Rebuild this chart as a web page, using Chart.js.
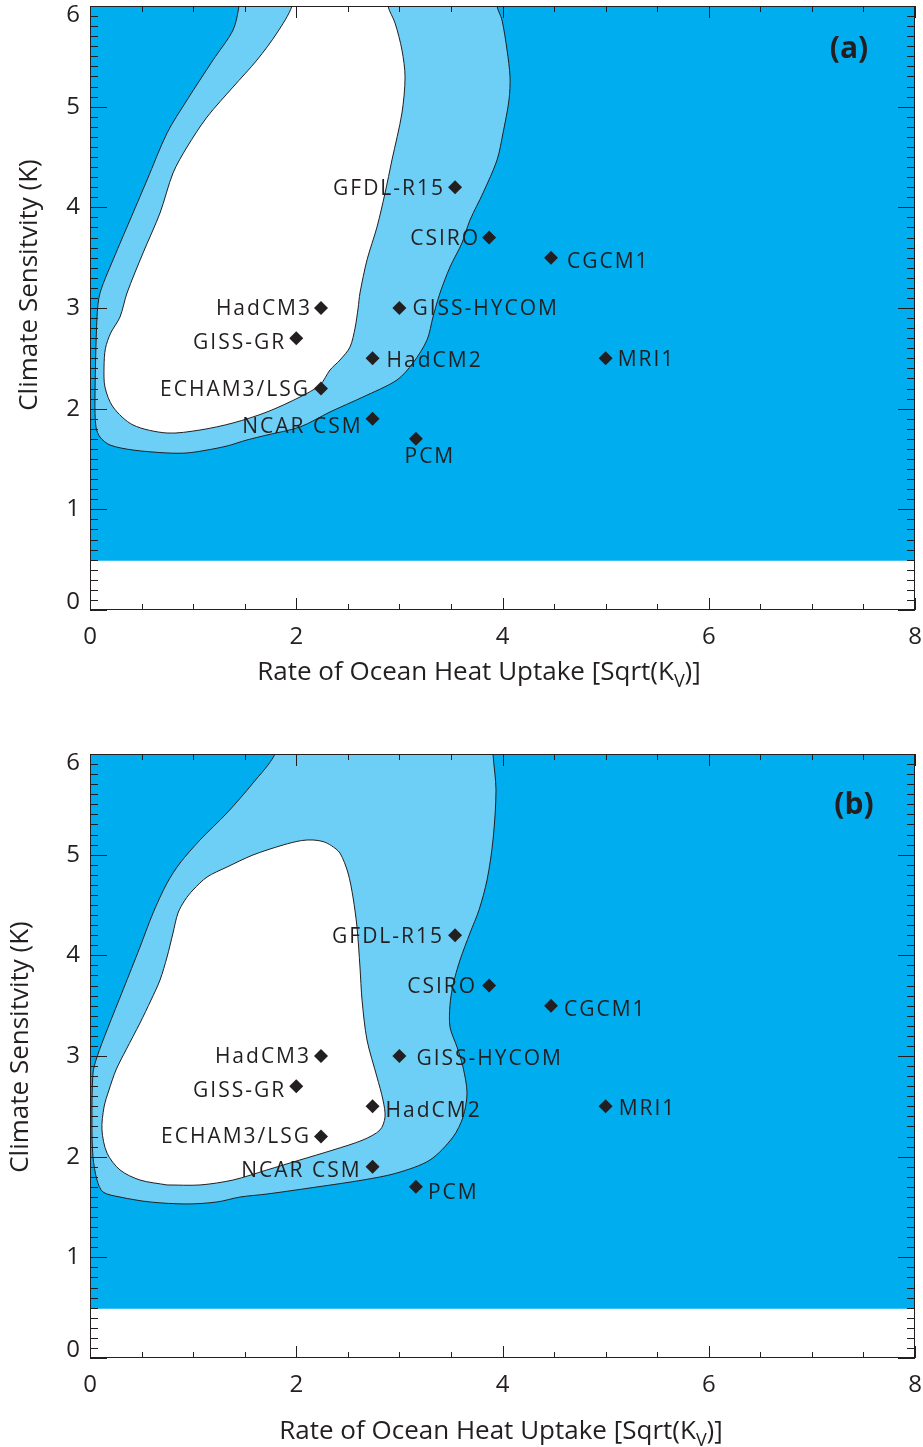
<!DOCTYPE html>
<html><head><meta charset="utf-8">
<script src="https://cdn.jsdelivr.net/npm/chart.js@4/dist/chart.umd.min.js"></script>
<style>
html,body{margin:0;padding:0;background:#fff;}
#wrap{position:relative;width:923px;height:1447px;overflow:hidden;}
.pane{position:absolute;left:0;width:923px;}
canvas{display:block;}
</style></head><body>
<div id="wrap">
<div class="pane" style="top:0;height:724px"><canvas id="ca" width="923" height="724"></canvas></div>
<div class="pane" style="top:724px;height:723px"><canvas id="cb" width="923" height="723"></canvas></div>
</div>
<script>
// ---------------- data ----------------
const models = ['GFDL-R15','CSIRO','CGCM1','HadCM3','GISS-HYCOM','GISS-GR','HadCM2','MRI1','ECHAM3/LSG','NCAR CSM','PCM'];
const heatUptake = [3.54,3.87,4.47,2.24,3.00,2.00,2.74,5.00,2.24,2.74,3.16];
const sensitivity = [4.2,3.7,3.5,3.0,3.0,2.7,2.5,2.5,2.2,1.9,1.7];
const xTicks = [0,2,4,6,8];
const yTicks = [0,1,2,3,4,5,6];
// region allowed by prior (sensitivity above ~0.49 K)
const priorRegion = [[-0.5,0.49],[8.5,0.49],[8.5,6.5],[-0.5,6.5]];
// panel (a) contours: outer (light blue) and inner (white) regions
const outerA = [[1.48,6.3],[1.445,6.0],[1.387,5.761],[1.193,5.463],[0.941,5.066],[0.747,4.738],[0.553,4.271],[0.417,3.944],[0.223,3.477],[0.097,3.149],[0.068,2.911],[0.048,2.086],[0.058,1.818],[0.097,1.718],[0.194,1.639],[0.417,1.589],[0.747,1.560],[0.941,1.560],[1.135,1.589],[1.328,1.629],[1.522,1.689],[1.716,1.738],[2.036,1.818],[2.327,1.967],[2.647,2.116],[2.977,2.285],[3.132,2.454],[3.268,2.682],[3.326,2.911],[3.394,3.149],[3.491,3.407],[3.607,3.646],[3.685,3.874],[3.811,4.142],[3.947,4.470],[4.005,4.738],[4.063,5.066],[4.073,5.295],[4.044,5.563],[3.995,5.861],[3.947,6.0],[3.93,6.3]];
const innerA = [[2.0,6.3],[1.959,6.0],[1.813,5.732],[1.619,5.463],[1.387,5.195],[1.135,4.897],[0.941,4.599],[0.805,4.341],[0.679,3.944],[0.514,3.546],[0.359,3.149],[0.291,2.911],[0.2,2.75],[0.150,2.60],[0.136,2.414],[0.145,2.215],[0.223,2.017],[0.417,1.838],[0.747,1.758],[1.067,1.788],[1.387,1.858],[1.716,1.967],[2.036,2.116],[2.230,2.235],[2.327,2.384],[2.424,2.483],[2.521,2.612],[2.570,2.80],[2.600,3.0],[2.618,3.149],[2.686,3.477],[2.783,3.804],[2.861,4.142],[2.928,4.470],[3.025,4.937],[3.055,5.295],[3.025,5.563],[2.958,5.831],[2.890,6.0],[2.87,6.3]];
// panel (b) contours
const outerB = [[1.85,6.3],[1.794,6.0],[1.581,5.712],[1.328,5.414],[1.067,5.146],[0.873,4.917],[0.747,4.718],[0.611,4.420],[0.485,4.083],[0.320,3.656],[0.165,3.258],[0.068,2.990],[0.029,2.831],[0.019,2.334],[0.029,1.997],[0.068,1.768],[0.126,1.649],[0.291,1.599],[0.582,1.550],[0.941,1.530],[1.232,1.550],[1.455,1.599],[1.716,1.629],[2.201,1.699],[2.647,1.768],[2.977,1.838],[3.297,1.967],[3.520,2.195],[3.617,2.394],[3.656,2.632],[3.617,2.891],[3.559,3.089],[3.491,3.288],[3.491,3.506],[3.520,3.705],[3.588,3.953],[3.685,4.222],[3.772,4.450],[3.850,4.748],[3.908,5.146],[3.937,5.642],[3.908,6.0],[3.90,6.3]];
const innerB = [[0.747,1.719],[0.485,1.768],[0.291,1.868],[0.165,2.036],[0.116,2.265],[0.136,2.493],[0.184,2.662],[0.252,2.861],[0.349,3.060],[0.485,3.328],[0.592,3.556],[0.679,3.755],[0.747,3.983],[0.805,4.222],[0.853,4.420],[0.921,4.549],[0.999,4.649],[1.135,4.778],[1.328,4.877],[1.581,4.997],[1.872,5.096],[2.05,5.14],[2.162,5.146],[2.26,5.13],[2.340,5.09],[2.424,5.016],[2.502,4.818],[2.550,4.579],[2.589,4.281],[2.618,3.884],[2.638,3.556],[2.686,3.159],[2.783,2.791],[2.841,2.563],[2.861,2.394],[2.812,2.265],[2.647,2.166],[2.356,2.066],[2.036,1.967],[1.716,1.868],[1.387,1.768],[1.067,1.719],[0.747,1.719]];

// ---------------- style / layout ----------------
const INK = '#231f20';
const DARK = '#00aeef';
const LIGHT = '#6dcff6';
const FONT = '"Open Sans", "Noto Sans", sans-serif';
// label placement per model: [side, dx, dy] in px relative to the marker
const layoutA = [['l',-12,0],['l',-11,0],['r',16,3],['l',-11,0],['r',13,0],['l',-12,3],['r',14,1],['r',12,0],['l',-13,0],['l',-12,7],['c',13,17]];
const layoutB = [['l',-13,0],['l',-14,0],['r',13,3],['l',-12,0],['r',17,2],['l',-12,3],['r',13,3],['r',13,1],['l',-12,-1],['l',-13,3],['r',12,5]];

const toXY = arr => arr.map(p => ({x:p[0], y:p[1]}));

const decor = {
  id: 'decor',
  afterDatasetsDraw(chart, args, o) {
    const {ctx, chartArea: a, scales: {x, y}} = chart;
    ctx.save();
    // frame + inward ticks
    ctx.strokeStyle = INK; ctx.lineWidth = 1;
    ctx.beginPath();
    for (let i = 0; i <= 16; i++) {
      const px = Math.round(x.getPixelForValue(i * 0.5)) + 0.5;
      const L = (i % 4 === 0) ? 12 : 6;
      ctx.moveTo(px, a.bottom); ctx.lineTo(px, a.bottom - L);
      ctx.moveTo(px, a.top); ctx.lineTo(px, a.top + L);
    }
    for (let i = 0; i <= 60; i++) {
      const py = Math.round(y.getPixelForValue(i / 10)) + 0.5;
      const L = (i % 10 === 0) ? 17 : 8;
      ctx.moveTo(a.left, py); ctx.lineTo(a.left + L, py);
      ctx.moveTo(a.right, py); ctx.lineTo(a.right - L, py);
    }
    ctx.stroke();
    ctx.strokeRect(a.left + 0.5, a.top + 0.5, a.right - a.left - 1, a.bottom - a.top - 1);

    // model labels
    const meta = chart.getDatasetMeta(o.pointIndex);
    const fs = 21, sp = 2;
    ctx.font = fs + 'px ' + FONT;
    ctx.fillStyle = INK;
    ctx.textBaseline = 'alphabetic';
    ctx.textAlign = 'left';
    try { ctx.letterSpacing = sp + 'px'; } catch (e) {}
    meta.data.forEach((pt, i) => {
      const [side, dx, dy] = o.layout[i];
      const t = models[i];
      const w = ctx.measureText(t).width - sp;
      let x0;
      if (side === 'l') x0 = pt.x + dx - w;
      else if (side === 'r') x0 = pt.x + dx;
      else x0 = pt.x + dx - w / 2;
      ctx.fillText(t, x0, pt.y + dy + fs * 0.357);
    });
    try { ctx.letterSpacing = '0px'; } catch (e) {}

    // end labels of the y axis (kept inside the axis span)
    ctx.font = '24px ' + FONT;
    ctx.textAlign = 'right';
    ctx.textBaseline = 'middle';
    ctx.fillText(String(yTicks[yTicks.length - 1]), a.left - 10, a.top + 9);
    ctx.fillText(String(yTicks[0]), a.left - 10, a.bottom - 8);

    // panel letter
    ctx.font = 'bold 30px ' + FONT;
    ctx.textAlign = 'center';
    ctx.textBaseline = 'middle';
    ctx.fillText(o.panel, o.panelX, o.panelY);

    // x-axis title with subscript
    const main = 'Rate of Ocean Heat Uptake [Sqrt(K', sub = 'V', tail = ')]';
    ctx.textAlign = 'left'; ctx.textBaseline = 'alphabetic';
    ctx.font = '26px ' + FONT;
    const w1 = ctx.measureText(main).width, w3 = ctx.measureText(tail).width;
    ctx.font = '18px ' + FONT;
    const w2 = ctx.measureText(sub).width;
    let xs = o.xTitleX - (w1 + w2 + w3) / 2;
    ctx.font = '26px ' + FONT;
    ctx.fillText(main, xs, o.xTitleBase);
    ctx.font = '18px ' + FONT;
    ctx.fillText(sub, xs + w1, o.xTitleBase + 7);
    ctx.font = '26px ' + FONT;
    ctx.fillText(tail, xs + w1 + w2, o.xTitleBase);

    // y-axis title
    ctx.save();
    ctx.translate(o.yTitleBase, o.yTitleY);
    ctx.rotate(-Math.PI / 2);
    ctx.font = '26px ' + FONT;
    ctx.textAlign = 'center';
    ctx.textBaseline = 'alphabetic';
    ctx.fillText('Climate Sensitvity (K)', 0, 0);
    ctx.restore();

    ctx.restore();
  }
};

function makePanel(id, H, top, bottom, outer, inner, opts) {
  const ctx = document.getElementById(id);
  return new Chart(ctx, {
    type: 'line',
    data: {
      datasets: [
        { label: 'models', data: heatUptake.map((v, i) => ({x: v, y: sensitivity[i]})),
          showLine: false, pointStyle: 'rectRot', pointRadius: 7, pointBorderWidth: 0,
          pointBackgroundColor: INK, backgroundColor: INK, borderColor: INK, order: 1 },
        { label: 'inner', data: toXY(inner), fill: 'shape', backgroundColor: '#ffffff',
          borderColor: INK, borderWidth: 1, pointRadius: 0, tension: 0.3, order: 2 },
        { label: 'outer', data: toXY(outer), fill: 'shape', backgroundColor: LIGHT,
          borderColor: INK, borderWidth: 1, pointRadius: 0, tension: 0.3, order: 3 },
        { label: 'prior', data: toXY(priorRegion), fill: 'shape', backgroundColor: DARK,
          borderWidth: 0, borderColor: 'rgba(0,0,0,0)', pointRadius: 0, tension: 0, order: 4 }
      ]
    },
    options: {
      responsive: false, animation: false, events: [],
      layout: { autoPadding: false, padding: { left: 0, top: top, right: 8, bottom: 0 } },
      plugins: { legend: { display: false }, tooltip: { enabled: false },
        decor: Object.assign({ pointIndex: 0 }, opts) },
      scales: {
        x: { type: 'linear', min: 0, max: 8,
          afterBuildTicks: s => { s.ticks = xTicks.map(v => ({value: v})); },
          afterFit: s => { s.height = H - bottom; s.paddingLeft = 0; s.paddingRight = 0; },
          grid: { display: false, drawTicks: false }, border: { display: false },
          ticks: { color: INK, font: { family: FONT, size: 24 }, padding: 13, maxRotation: 0, autoSkip: false } },
        y: { type: 'linear', min: 0, max: 6,
          afterBuildTicks: s => { s.ticks = yTicks.map(v => ({value: v})); },
          afterFit: s => { s.width = 90; s.paddingTop = 0; s.paddingBottom = 0; },
          grid: { display: false, drawTicks: false }, border: { display: false },
          ticks: { color: INK, font: { family: FONT, size: 24 }, padding: 10, autoSkip: false,
            callback: v => (v === yTicks[0] || v === yTicks[yTicks.length - 1]) ? '' : String(v) } }
      }
    },
    plugins: [decor]
  });
}

makePanel('ca', 724, 6, 610, outerA, innerA, {
  layout: layoutA, panel: '(a)', panelX: 849, panelY: 49,
  xTitleX: 479, xTitleBase: 680, yTitleBase: 37, yTitleY: 285 });
makePanel('cb', 723, 30, 634, outerB, innerB, {
  layout: layoutB, panel: '(b)', panelX: 854, panelY: 81,
  xTitleX: 501, xTitleBase: 715, yTitleBase: 28, yTitleY: 323 });
</script>
</body></html>
